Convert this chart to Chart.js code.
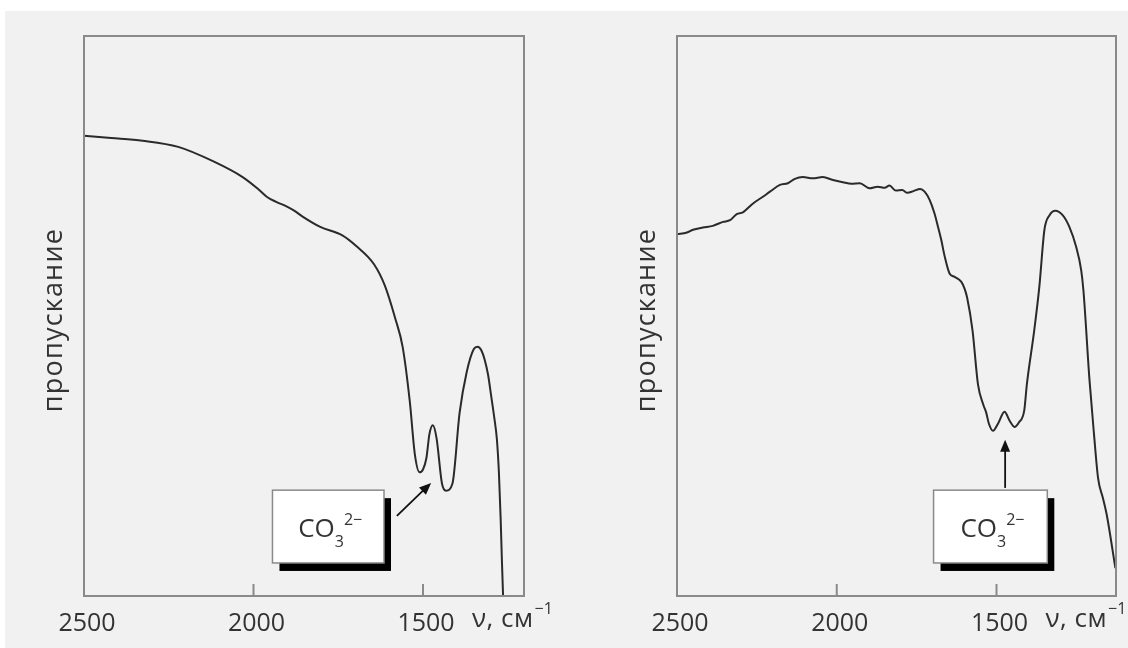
<!DOCTYPE html>
<html>
<head>
<meta charset="utf-8">
<script src="https://cdn.jsdelivr.net/npm/chart.js@4.4.1/dist/chart.umd.min.js"></script>
<style>
  html, body { margin: 0; padding: 0; background: #fff; }
  body { width: 1128px; height: 648px; position: relative; overflow: hidden; font-family: "Open Sans", sans-serif; }
  #bg { position: absolute; left: 5px; top: 11px; right: 0; bottom: 0; background: #f1f1f1; }
  .panel { position: absolute; top: 0; width: 564px; height: 648px; }
  #leftPanel { left: 0; }
  #rightPanel { left: 564px; }
</style>
</head>
<body>
<div id="bg"></div>
<div class="panel" id="leftPanel"><canvas id="leftSpectrum" width="564" height="648"></canvas></div>
<div class="panel" id="rightPanel"><canvas id="rightSpectrum" width="564" height="648"></canvas></div>
<script>
// wavenumbers (cm-1) and transmission (arbitrary units, 0 = bottom of frame, 100 = top)
const xTicks = [2500, 2000, 1500];

const leftWavenumbers = [2500, 2420, 2327, 2222, 2118, 2032, 1985, 1959, 1930, 1907, 1880, 1854, 1803, 1738, 1697,
  1644, 1613, 1582, 1560, 1539, 1524, 1510, 1500, 1490, 1481, 1471, 1460, 1444, 1432, 1413, 1392, 1371, 1350,
  1339, 1328, 1318, 1308, 1299, 1290, 1282, 1276, 1271, 1267, 1262];
const leftTransmission = [82.2, 81.8, 81.3, 80.2, 77.6, 74.8, 72.6, 71.2, 70.3, 69.7, 68.8, 67.7, 65.9, 64.4, 62.5,
  59.2, 55.5, 49.6, 44.5, 34.8, 25.3, 22.1, 22.6, 24.6, 28.9, 30.5, 28.2, 20.1, 18.8, 20.1, 32.7, 40.0, 44.1,
  44.5, 43.9, 42.2, 39.5, 35.8, 32.0, 28.0, 22.0, 14.0, 6.0, -3];

const rightWavenumbers = [2500, 2469, 2450, 2419, 2388, 2356, 2334, 2313, 2294, 2262, 2231, 2209, 2178, 2153, 2131,
  2106, 2075, 2044, 2012, 1981, 1954, 1928, 1897, 1872, 1850, 1835, 1815, 1795, 1779, 1760, 1739, 1725, 1709,
  1694, 1683, 1673, 1662, 1647, 1631, 1610, 1600, 1592, 1575, 1558, 1541, 1532, 1524, 1511, 1495, 1475, 1458,
  1444, 1430, 1413, 1405, 1382, 1366, 1350, 1334, 1316, 1293, 1272, 1251, 1235, 1228, 1209, 1195, 1182, 1167,
  1155, 1128];
const rightTransmission = [64.6, 64.9, 65.4, 65.8, 66.1, 66.8, 67.1, 68.2, 68.5, 70.1, 71.3, 72.2, 73.4, 73.7, 74.5,
  74.8, 74.6, 74.8, 74.3, 73.9, 73.6, 73.7, 72.8, 73.1, 72.9, 73.3, 72.4, 72.5, 72.0, 72.3, 72.7, 72.2, 70.7,
  68.3, 65.9, 63.6, 60.6, 57.6, 57.0, 56.1, 54.9, 53.3, 47.4, 37.8, 34.1, 32.7, 30.8, 29.5, 30.8, 32.9, 31.2,
  30.2, 31.0, 33.2, 37.8, 47.4, 55.2, 65.4, 68.0, 68.8, 68.0, 65.9, 62.4, 58.2, 54.6, 38.6, 29.0, 21.0, 17.5,
  14.5, 5.0];

const yTitle = 'пропускание';
const textColor = '#333';
const fontFamily = '"Open Sans", sans-serif';

// frame, inner ticks, axis titles and the CO3 callout
const panelDecor = {
  id: 'panelDecor',
  afterDatasetsDraw(chart, args, opts) {
    const { ctx, chartArea: a, scales: { x, y } } = chart;
    ctx.save();
    ctx.strokeStyle = '#8a8a8a';
    ctx.lineWidth = 2;
    ctx.strokeRect(a.left, a.top, a.right - a.left, a.bottom - a.top);
    xTicks.forEach(v => {
      const px = x.getPixelForValue(v);
      if (px > a.left + 3) {
        ctx.beginPath();
        ctx.moveTo(px, a.bottom);
        ctx.lineTo(px, a.bottom - 12);
        ctx.stroke();
      }
    });

    // y title, rotated
    ctx.save();
    ctx.translate(opts.titleX, (a.top + a.bottom) / 2 + 4);
    ctx.rotate(-Math.PI / 2);
    ctx.font = '27px ' + fontFamily;
    ctx.letterSpacing = '1.2px';
    ctx.fillStyle = textColor;
    ctx.textAlign = 'center';
    ctx.textBaseline = 'middle';
    ctx.fillText(yTitle, 0, 0);
    ctx.restore();

    // unit label next to the 1500 tick
    ctx.fillStyle = textColor;
    ctx.textBaseline = 'alphabetic';
    ctx.textAlign = 'left';
    const ux = x.getPixelForValue(1500) + 49;
    ctx.font = '26px ' + fontFamily;
    ctx.letterSpacing = '0.5px';
    ctx.fillText('ν, см', ux, 627);
    const uw = ctx.measureText('ν, см').width;
    ctx.font = '16px ' + fontFamily;
    ctx.letterSpacing = '0px';
    ctx.fillText('−1', ux + uw + 1, 614);

    // callout box
    const b = opts.box;
    const bx1 = x.getPixelForValue(b[0]), bx2 = x.getPixelForValue(b[1]);
    const by1 = y.getPixelForValue(b[2]), by2 = y.getPixelForValue(b[3]);
    const w = bx2 - bx1, h = by2 - by1;
    ctx.fillStyle = '#000';
    ctx.fillRect(bx1 + 7, by1 + 8, w, h);
    ctx.fillStyle = '#fff';
    ctx.fillRect(bx1, by1, w, h);
    ctx.strokeStyle = '#8a8a8a';
    ctx.lineWidth = 1.5;
    ctx.strokeRect(bx1, by1, w, h);

    ctx.font = '26px ' + fontFamily;
    const coW = ctx.measureText('CO').width;
    ctx.font = '16px ' + fontFamily;
    const subW = ctx.measureText('3').width;
    const supW = ctx.measureText('2−').width;
    const total = coW + subW + supW;
    let tx = (bx1 + bx2) / 2 - total / 2 + 2;
    const base = (by1 + by2) / 2 + 10;
    ctx.fillStyle = textColor;
    ctx.font = '26px ' + fontFamily;
    ctx.fillText('CO', tx, base);
    tx += coW;
    ctx.font = '16px ' + fontFamily;
    ctx.fillText('3', tx, base + 10);
    tx += subW;
    ctx.fillText('2−', tx, base - 12);

    // arrow
    const ar = opts.arrow;
    const x1 = x.getPixelForValue(ar[0]), y1 = y.getPixelForValue(ar[1]);
    const x2 = x.getPixelForValue(ar[2]), y2 = y.getPixelForValue(ar[3]);
    const ang = Math.atan2(y2 - y1, x2 - x1);
    ctx.strokeStyle = '#111';
    ctx.fillStyle = '#111';
    ctx.lineWidth = 1.8;
    ctx.beginPath();
    ctx.moveTo(x1, y1);
    ctx.lineTo(x2 - 8 * Math.cos(ang), y2 - 8 * Math.sin(ang));
    ctx.stroke();
    ctx.beginPath();
    ctx.moveTo(x2, y2);
    ctx.lineTo(x2 - 12 * Math.cos(ang) + 5 * Math.sin(ang), y2 - 12 * Math.sin(ang) - 5 * Math.cos(ang));
    ctx.lineTo(x2 - 12 * Math.cos(ang) - 5 * Math.sin(ang), y2 - 12 * Math.sin(ang) + 5 * Math.cos(ang));
    ctx.closePath();
    ctx.fill();
    ctx.restore();
  }
};

function makeSpectrum(canvasId, wavenumbers, transmission, cfg) {
  const ctx = document.getElementById(canvasId).getContext('2d');
  return new Chart(ctx, {
    type: 'line',
    data: {
      datasets: [{
        data: wavenumbers.map((v, i) => ({ x: v, y: transmission[i] })),
        borderColor: '#2a2a2a',
        borderWidth: 2,
        pointRadius: 0,
        cubicInterpolationMode: 'monotone',
        fill: false
      }]
    },
    options: {
      responsive: false,
      animation: false,
      events: [],
      layout: { padding: { top: 36, right: cfg.padRight, left: 0, bottom: 0 } },
      plugins: {
        legend: { display: false },
        tooltip: { enabled: false },
        panelDecor: { box: cfg.box, arrow: cfg.arrow, titleX: cfg.titleX }
      },
      scales: {
        x: {
          type: 'linear',
          reverse: true,
          min: cfg.xMin,
          max: 2500,
          grid: { display: false },
          border: { display: false },
          afterBuildTicks: s => { s.ticks = xTicks.map(v => ({ value: v })); },
          afterFit: s => { s.height = 52; },
          ticks: {
            color: textColor,
            font: { family: fontFamily, size: 25 },
            padding: 5,
            labelOffset: 3,
            maxRotation: 0,
            autoSkip: false,
            callback: v => String(v)
          }
        },
        y: {
          min: 0,
          max: 100,
          grid: { display: false },
          border: { display: false },
          ticks: { display: false },
          afterFit: s => { s.width = cfg.yAxisWidth; }
        }
      }
    },
    plugins: [panelDecor]
  });
}

makeSpectrum('leftSpectrum', leftWavenumbers, leftTransmission, {
  xMin: 1202, padRight: 40, yAxisWidth: 84, titleX: 54,
  box: [1944, 1615, 18.9, 5.9],
  arrow: [1577, 14.3, 1476, 20.2]
});
makeSpectrum('rightSpectrum', rightWavenumbers, rightTransmission, {
  xMin: 1126, padRight: 12, yAxisWidth: 113, titleX: 83,
  box: [1697, 1341, 18.9, 5.9],
  arrow: [1473, 19.3, 1473, 27.9]
});
</script>
</body>
</html>
